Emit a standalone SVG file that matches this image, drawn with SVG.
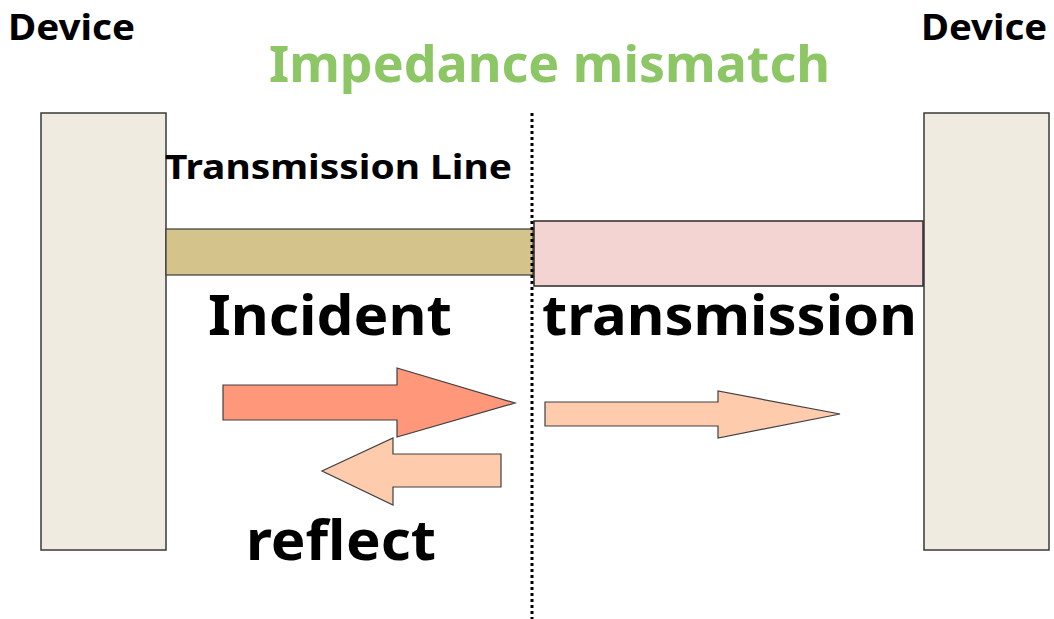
<svg xmlns="http://www.w3.org/2000/svg" width="1054" height="619" viewBox="0 0 1054 619">
<style>
.dev{fill:#f0ebe1;stroke:#3a3a3a;stroke-width:1.5}
.t{font-family:"Noto Sans","Open Sans","Liberation Sans",sans-serif;font-weight:bold;fill:#000}
.ar{stroke:#404040;stroke-width:1.2;stroke-linejoin:miter}
</style>
<rect width="1054" height="619" fill="#fff"/>
<g id="device-left">
<rect class="dev" x="41" y="113" width="125" height="437"/>
<text class="t" x="8" y="40" font-size="36" textLength="127" lengthAdjust="spacingAndGlyphs">Device</text>
</g>
<g id="device-right">
<rect class="dev" x="924" y="113" width="125" height="437"/>
<text class="t" x="921" y="40" font-size="36" textLength="126" lengthAdjust="spacingAndGlyphs">Device</text>
</g>
<g id="title">
<text x="269" y="82" font-family="Noto Sans,Open Sans,Liberation Sans,sans-serif" font-weight="bold" font-size="50" fill="#8cc665" textLength="561" lengthAdjust="spacingAndGlyphs">Impedance mismatch</text>
</g>
<g id="tline">
<rect x="166" y="229" width="367" height="46" fill="#d4c38a" stroke="#3a3a3a" stroke-width="1.2"/>
<text class="t" x="165" y="179" font-size="34" textLength="347" lengthAdjust="spacingAndGlyphs">Transmission Line</text>
</g>
<g id="load-line">
<rect x="534" y="221" width="389" height="65" fill="#f4d3d3" stroke="#2a2a2a" stroke-width="1.5"/>
</g>
<g id="connectors">
<line x1="532" y1="113" x2="532" y2="619" stroke="#000" stroke-width="3" stroke-dasharray="3 3"/>
</g>
<g id="incident">
<polygon class="ar" fill="#ff977a" points="223,385 397,385 397,368 515,403 397,437 397,420 223,420"/>
<text class="t" x="208" y="335" font-size="56" textLength="244" lengthAdjust="spacingAndGlyphs">Incident</text>
</g>
<g id="reflect">
<polygon class="ar" fill="#ffcbad" points="501,454 393,454 393,438 322,471 393,505 393,487 501,487"/>
<text class="t" x="246" y="560" font-size="56" textLength="190" lengthAdjust="spacingAndGlyphs">reflect</text>
</g>
<g id="transmission">
<polygon class="ar" fill="#ffcbad" points="545,402 718,402 718,391 840,414 718,438 718,426 545,426"/>
<text class="t" x="542" y="335" font-size="56" textLength="375" lengthAdjust="spacingAndGlyphs">transmission</text>
</g>
</svg>
